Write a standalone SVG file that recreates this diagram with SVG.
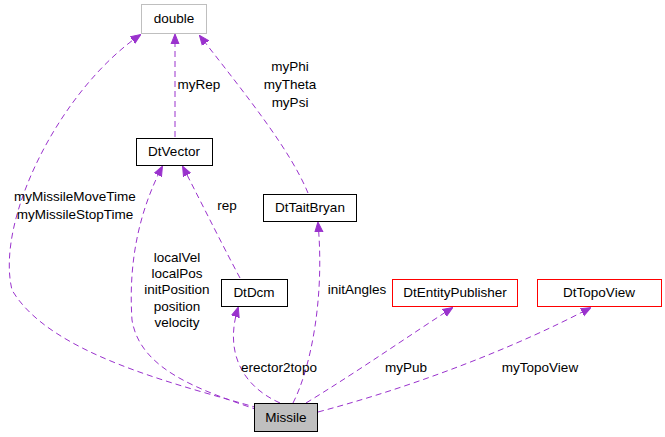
<svg xmlns="http://www.w3.org/2000/svg" width="665" height="437" viewBox="0 0 665 437">
<style>
text{font-family:"Liberation Sans",Arial,sans-serif;font-size:13.5px;fill:#000}
.n rect{fill:#fff;stroke:#000}
.r rect{stroke:#f00}
.e path{fill:none;stroke:#9a32cd;stroke-dasharray:6,4}
.l{text-anchor:middle}
</style>
<defs><marker id="a" viewBox="0 0 10 10" refX="9" refY="5" markerWidth="10" markerHeight="10" markerUnits="userSpaceOnUse" orient="auto"><path d="M0,1L10,5L0,9z" fill="#9a32cd" stroke="#9a32cd"/></marker></defs>
<rect width="665" height="437" fill="#fff"/>
<g class="e">
<path d="M258,408C180,385 50,355 12,290C-5,220 60,90 140,35" marker-end="url(#a)"/>
<path d="M175,137V35" marker-end="url(#a)"/>
<path d="M308,193C290,150 250,100 200,36" marker-end="url(#a)"/>
<path d="M258,410C200,390 140,370 132,320C128,260 140,210 162,167" marker-end="url(#a)"/>
<path d="M240,278C225,250 205,210 183,167" marker-end="url(#a)"/>
<path d="M280,403C240,385 225,350 238,308" marker-end="url(#a)"/>
<path d="M293,403C310,370 325,300 318,223" marker-end="url(#a)"/>
<path d="M306,403C360,370 410,335 452,308" marker-end="url(#a)"/>
<path d="M318,412C420,385 520,345 590,308" marker-end="url(#a)"/>
</g>
<g class="e"><text x="75" y="201" class="l">myMissileMoveTime</text><text x="75" y="219" class="l">myMissileStopTime</text>
<text x="199" y="89" class="l">myRep</text>
<text x="290" y="71" class="l">myPhi</text><text x="290" y="89" class="l">myTheta</text><text x="290" y="107" class="l">myPsi</text>
<text x="227" y="210" class="l">rep</text>
<text x="177" y="262" class="l">localVel</text><text x="177" y="278" class="l">localPos</text><text x="177" y="294" class="l">initPosition</text><text x="177" y="311" class="l">position</text><text x="177" y="327" class="l">velocity</text>
<text x="279" y="372" class="l">erector2topo</text>
<text x="357" y="294" class="l">initAngles</text>
<text x="406" y="372" class="l">myPub</text>
<text x="540" y="372" class="l">myTopoView</text></g>
<g id="double" class="n"><rect x="141.5" y="4.5" width="65" height="29" style="stroke:#bfbfbf"/><text x="174" y="23" class="l">double</text></g>
<g id="DtVector" class="n"><rect x="136.5" y="138.5" width="76" height="27"/><text x="174" y="156" class="l">DtVector</text></g>
<g id="DtTaitBryan" class="n"><rect x="263.5" y="194.5" width="93" height="27"/><text x="310" y="212" class="l">DtTaitBryan</text></g>
<g id="DtDcm" class="n"><rect x="221.5" y="279.5" width="66" height="27"/><text x="254" y="297" class="l">DtDcm</text></g>
<g id="DtEntityPublisher" class="n r"><rect x="392.5" y="279.5" width="125" height="27"/><text x="455" y="297" class="l">DtEntityPublisher</text></g>
<g id="DtTopoView" class="n r"><rect x="537.5" y="279.5" width="124" height="27"/><text x="599" y="297" class="l">DtTopoView</text></g>
<g id="Missile" class="n"><rect x="254.5" y="403.5" width="63" height="28" style="fill:#bfbfbf"/><text x="286" y="422" class="l">Missile</text></g>
</svg>
